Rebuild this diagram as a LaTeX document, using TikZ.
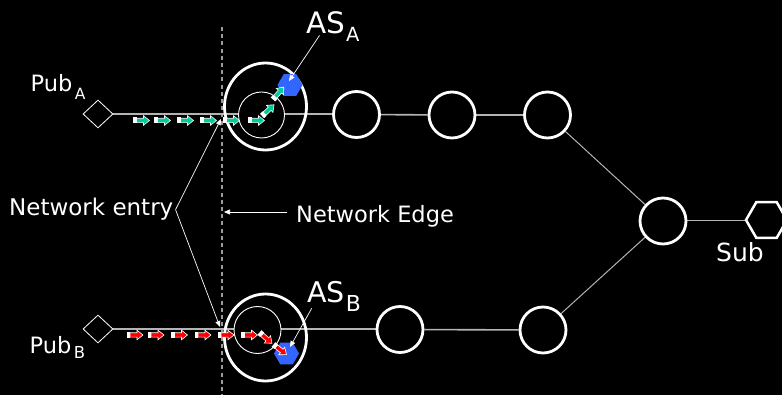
\documentclass[tikz,border=0pt]{standalone}
\usepackage{fontspec}
\setmainfont{DejaVu Sans}
\usetikzlibrary{shapes.geometric,arrows.meta}

\definecolor{pktgreen}{HTML}{00CC99}
\definecolor{pktred}{HTML}{FF0000}
\definecolor{asblue}{HTML}{3366FF}
\definecolor{linkgray}{HTML}{B4B4B4}
\definecolor{edgegray}{HTML}{9A9A9A}

\pgfdeclarelayer{bg}
\pgfsetlayers{bg,main}

\newcommand{\fs}[1]{\fontsize{#1}{#1}\selectfont}

\tikzset{
  router/.style={circle, draw=white, line width=2.8pt, fill=black,
                 minimum size=46pt, inner sep=0pt},
  ring/.style={ellipse, draw=white, line width=2.8pt,
               minimum width=82pt, minimum height=87pt, inner sep=0pt},
  core/.style={circle, draw=white, line width=0.9pt, fill=black,
               minimum size=46pt, inner sep=0pt},
  pub/.style={diamond, draw=white, line width=0.8pt,
              minimum width=30pt, minimum height=28pt, inner sep=0pt},
  subhex/.style={regular polygon, regular polygon sides=6, draw=white,
                 line width=2.5pt, minimum size=41pt, inner sep=0pt},
  ashex/.style={regular polygon, regular polygon sides=6, fill=asblue,
                minimum size=25pt, inner sep=0pt},
  link/.style={draw=linkgray, line width=1.6pt},
  thinlink/.style={draw=linkgray, line width=1pt},
  edgeline/.style={draw=edgegray, line width=1.5pt, dash pattern=on 4pt off 3.2pt},
  leader/.style={draw=white, line width=0.7pt, -{Triangle[length=6pt,width=5pt]}},
  lbl/.style={text=white, inner sep=0pt, anchor=base west},
  % one packet: white tail block followed by a coloured block arrow
  pics/pkt/.style={code={
    \fill[white] (0,-3) rectangle (3.5,3);
    \filldraw[fill=#1, draw=white, line width=0.6pt]
      (3.5,-2.2) -- (10.5,-2.2) -- (10.5,-4.8) -- (16.5,0)
      -- (10.5,4.8) -- (10.5,2.2) -- (3.5,2.2) -- cycle;
  }}
}

\begin{document}
\begin{tikzpicture}[x=1pt, y=-1pt]
  \useasboundingbox (0,0) rectangle (782,395);

  % publishers
  \node[pub] (pubA) at (98,114) {};
  \node[pub] (pubB) at (98,329) {};

  % routers and subscriber
  \node[router] (t2) at (356.5,114.5) {};
  \node[router] (t3) at (452,115) {};
  \node[router] (t4) at (547.5,115) {};
  \node[router] (m)  at (663,221) {};
  \node[router] (b2) at (400,329.5) {};
  \node[router] (b3) at (543,330) {};
  \node[subhex] (sub) at (766.5,220) {};

  % canvas, network edge and links, kept underneath the nodes
  \begin{pgfonlayer}{bg}
    \fill[black] (0,0) rectangle (782,395);
    \coordinate (dtop) at (222,27);
    \coordinate (dbot) at (222,395);
    \draw[edgeline] (dtop) -- (dbot);
    \draw[link] (pubA.east) -- (pubA.east -| t2.west);
    \draw[link] (t2) -- (t3);
    \draw[link] (t3) -- (t4);
    \draw[thinlink] (t4) -- (m);
    \draw[link] (pubB.east) -- (pubB.east -| b2.west);
    \draw[link] (b2) -- (b3);
    \draw[thinlink] (b3) -- (m);
    \draw[thinlink] (m) -- (m -| sub.west);
  \end{pgfonlayer}

  % access servers
  \node[ring] (oA) at (265.5,106.5) {};
  \node[core] (iA) at (261.5,115) {};
  \node[ring] (oB) at (265.5,337.5) {};
  \node[core, minimum size=47pt] (iB) at (257.5,330) {};
  \node[ashex] (hexA) at (290,85) {};
  \node[ashex] (hexB) at (286.5,353.5) {};

  % packets of publisher A
  \foreach \x in {133,154,177,200,223,248}
    \pic at (\x,120.5) {pkt=pktgreen};
  \pic[rotate=43] at (262,116) {pkt=pktgreen};
  \pic[rotate=49] at (273,99.5) {pkt=pktgreen};

  % packets of publisher B
  \foreach \x in {126.5,147.5,171,194.5,217.5,241}
    \pic at (\x,335) {pkt=pktred};
  \pic[rotate=-41] at (259.5,332.5) {pkt=pktred};
  \pic[rotate=-38] at (273.5,344.5) {pkt=pktred};

  % labels
  \node[lbl] (pubAl) at (30.5,91.7) {\fs{22.5}Pub\hspace{2.5pt}\raisebox{-8.3pt}{\fs{15.5}A}};
  \node[lbl] (pubBl) at (29.5,353) {\fs{22.5}Pub\hspace{2.5pt}\raisebox{-5.3pt}{\fs{16.5}B}};
  \node[lbl] (asA) at (306,33.3) {\fs{29.5}AS\hspace{1pt}\raisebox{-8.7pt}{\fs{19.5}A}};
  \node[lbl] (asB) at (307,303) {\fs{28.5}AS\hspace{1pt}\raisebox{-9pt}{\fs{22}B}};
  \node[lbl] (subl) at (716,261.7) {\fs{25}Sub};
  \node[lbl] (netentry) at (9,216) {\fs{23}Network entry};
  \node[lbl] (netedge) at (296,222.5) {\fs{22.5}Network Edge};

  % leaders
  \coordinate (entryAtip) at (221,119);
  \coordinate (entryBtip) at (220,327);
  \coordinate (edgetip) at (224,212);
  \coordinate (asAfoot) at (319.5,35.5);
  \coordinate (asAtip) at (289,81);
  \coordinate (asBfoot) at (311.7,308.3);
  \coordinate (asBtip) at (290,347);
  \draw[leader] ([xshift=2pt]netentry.east) -- (entryAtip);
  \draw[leader] ([xshift=2pt]netentry.east) -- (entryBtip);
  \draw[leader] ([xshift=-9pt]netedge.west |- edgetip) -- (edgetip);
  \draw[leader] (asAfoot) -- (asAtip);
  \draw[leader] (asBfoot) -- (asBtip);
\end{tikzpicture}
\end{document}
